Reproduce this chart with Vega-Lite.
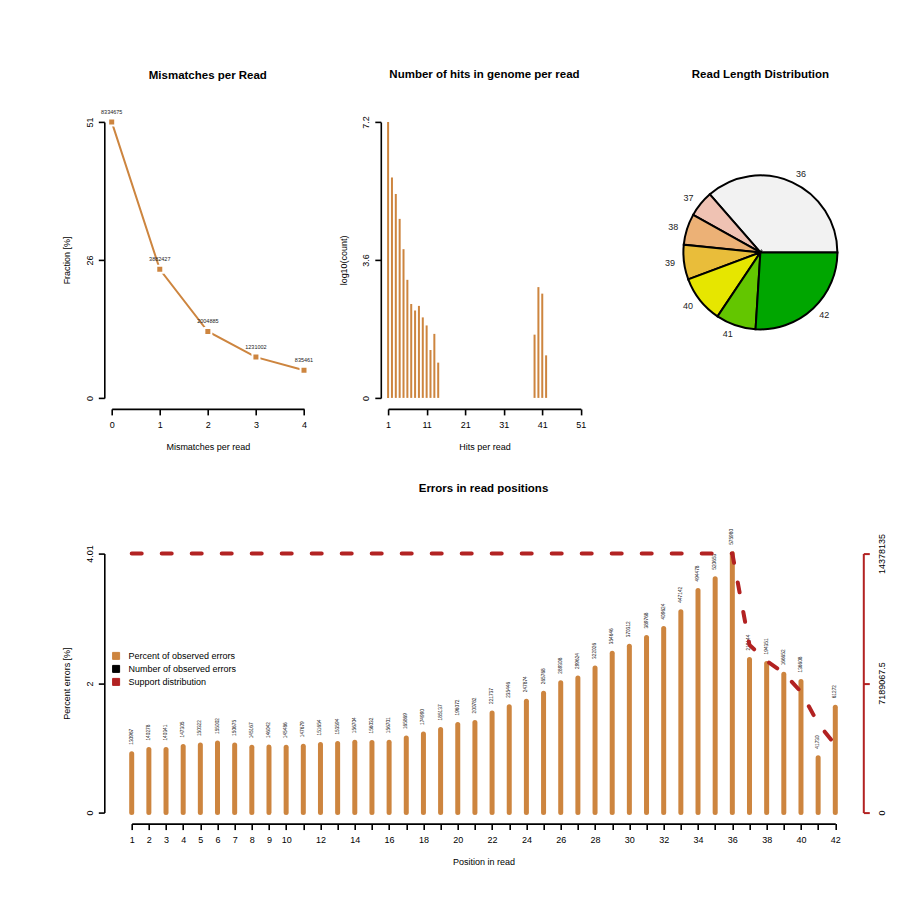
{
  "$schema": "https://vega.github.io/schema/vega-lite/v6.json",
  "background": "white",
  "padding": {"left": 36.3, "top": 68.9, "right": 5, "bottom": 5},
  "config": {
    "font": "Liberation Sans",
    "view": {"stroke": null},
    "title": {"font": "Liberation Sans", "fontSize": 11.5, "fontWeight": "bold", "color": "black", "anchor": "middle"},
    "axis": {"grid": false, "domainColor": "black", "tickColor": "black", "domainWidth": 1.6, "tickWidth": 1.6, "tickSize": 6, "labelFont": "Liberation Sans", "labelFontSize": 9, "labelColor": "black", "titleFont": "Liberation Sans", "titleFontSize": 9, "titleFontWeight": "normal", "titleColor": "black", "labelOverlap": false, "labelFlush": false},
    "axisX": {"labelPadding": 6, "titlePadding": 13},
    "axisLeft": {"labelAngle": 270, "labelAlign": "center", "labelBaseline": "bottom", "labelPadding": 4, "titlePadding": 13.4},
    "axisRight": {"labelAngle": 270, "labelAlign": "center", "labelBaseline": "top", "labelPadding": 8.5}
  },
  "spacing": 30.7,
  "vconcat": [
    {
      "spacing": 25.4,
      "hconcat": [
        {"width": 1, "height": 1, "data": {"values": []}, "mark": "point"},
        {
          "width": 192.3,
          "height": 276,
          "title": {"text": "Mismatches per Read", "offset": 28.5},
          "data": {"values": [
            {"mismatches": 0, "fraction": 51.17, "reads": "8334675"},
            {"mismatches": 1, "fraction": 23.84, "reads": "3882427"},
            {"mismatches": 2, "fraction": 12.31, "reads": "2004885"},
            {"mismatches": 3, "fraction": 7.56, "reads": "1231002"},
            {"mismatches": 4, "fraction": 5.13, "reads": "835461"}
          ]},
          "encoding": {
            "x": {"field": "mismatches", "type": "quantitative", "scale": {"domain": [0, 4], "nice": false, "zero": false}, "axis": {"values": [0, 1, 2, 3, 4], "offset": 11, "title": "Mismatches per read"}},
            "y": {"field": "fraction", "type": "quantitative", "scale": {"domain": [0, 51.17], "nice": false}, "axis": {"values": [0, 25.585, 51.17], "format": ".0f", "offset": 7.4, "title": "Fraction [%]"}}
          },
          "layer": [
            {"mark": {"type": "line", "color": "#CD853F", "strokeWidth": 2}},
            {"mark": {"type": "point", "shape": "square", "filled": true, "size": 49, "color": "#CD853F", "stroke": "white", "strokeWidth": 2, "opacity": 1}},
            {"mark": {"type": "text", "dy": -10, "fontSize": 5.5, "color": "#222"}, "encoding": {"text": {"field": "reads"}}}
          ]
        },
        {
          "width": 192.7,
          "height": 276,
          "title": {"text": "Number of hits in genome per read", "offset": 35.1},
          "data": {"values": [
            {"hits": 1, "log10count": 7.2},
            {"hits": 2, "log10count": 5.75},
            {"hits": 3, "log10count": 5.32},
            {"hits": 4, "log10count": 4.67},
            {"hits": 5, "log10count": 3.88},
            {"hits": 6, "log10count": 3.08},
            {"hits": 7, "log10count": 2.45},
            {"hits": 8, "log10count": 2.28},
            {"hits": 9, "log10count": 2.4},
            {"hits": 10, "log10count": 2.1},
            {"hits": 11, "log10count": 1.89},
            {"hits": 12, "log10count": 1.25},
            {"hits": 13, "log10count": 1.67},
            {"hits": 14, "log10count": 0.92},
            {"hits": 39, "log10count": 1.65},
            {"hits": 40, "log10count": 2.89},
            {"hits": 41, "log10count": 2.72},
            {"hits": 42, "log10count": 1.11}
          ]},
          "mark": {"type": "rule", "color": "#CD853F", "strokeWidth": 2},
          "encoding": {
            "x": {"field": "hits", "type": "quantitative", "scale": {"domain": [1, 51], "nice": false, "zero": false}, "axis": {"values": [1, 11, 21, 31, 41, 51], "offset": 11, "title": "Hits per read"}},
            "y": {"field": "log10count", "type": "quantitative", "scale": {"domain": [0, 7.2], "nice": false}, "axis": {"values": [0, 3.6, 7.2], "format": ".2~f", "offset": 7.3, "title": "log10(count)"}},
            "y2": {"datum": 0}
          }
        },
        {
          "width": 297.8,
          "height": 261,
          "title": {"text": "Read Length Distribution", "offset": 41.3},
          "data": {"values": [
            {"length": 36, "share": 36.4},
            {"length": 37, "share": 5.5},
            {"length": 38, "share": 6.5},
            {"length": 39, "share": 7.3},
            {"length": 40, "share": 9.9},
            {"length": 41, "share": 8.4},
            {"length": 42, "share": 26.0}
          ]},
          "encoding": {
            "theta": {"field": "share", "type": "quantitative", "stack": true, "scale": {"domain": [0, 100], "range": [1.5707963, 7.8539816]}},
            "order": {"field": "length", "type": "quantitative", "sort": "descending"}
          },
          "layer": [
            {"mark": {"type": "arc", "outerRadius": 77, "stroke": "black", "strokeWidth": 2}, "encoding": {"fill": {"field": "length", "type": "nominal", "scale": {"domain": [36, 37, 38, 39, 40, 41, 42], "range": ["#F2F2F2", "#EFC2B3", "#ECB176", "#E9BD3A", "#E6E600", "#63C600", "#00A600"]}, "legend": null}}},
            {"mark": {"type": "text", "radius": 86, "align": "left", "baseline": "middle", "fontSize": 9, "color": "#222"}, "encoding": {"text": {"condition": {"test": "datum.length == 36 || datum.length == 42", "field": "length"}, "value": ""}}},
            {"mark": {"type": "text", "radius": 86, "align": "right", "baseline": "middle", "fontSize": 9, "color": "#222"}, "encoding": {"text": {"condition": {"test": "datum.length != 36 && datum.length != 42", "field": "length"}, "value": ""}}}
          ]
        }
      ]
    },
    {
      "spacing": 25.4,
      "hconcat": [
        {"width": 1, "height": 1, "data": {"values": []}, "mark": "point"},
        {
          "width": 703.6,
          "height": 259,
          "title": {"text": "Errors in read positions", "offset": 34},
          "data": {"values": [
            {"position": 1, "pct": 0.911, "errors": "130967", "support": 14378135},
            {"position": 2, "pct": 0.976, "errors": "140278", "support": 14378135},
            {"position": 3, "pct": 0.976, "errors": "140341", "support": 14378135},
            {"position": 4, "pct": 1.024, "errors": "147305", "support": 14378135},
            {"position": 5, "pct": 1.045, "errors": "150322", "support": 14378135},
            {"position": 6, "pct": 1.078, "errors": "155002", "support": 14378135},
            {"position": 7, "pct": 1.048, "errors": "150675", "support": 14378135},
            {"position": 8, "pct": 1.010, "errors": "145167", "support": 14378135},
            {"position": 9, "pct": 1.016, "errors": "146042", "support": 14378135},
            {"position": 10, "pct": 1.012, "errors": "145486", "support": 14378135},
            {"position": 11, "pct": 1.027, "errors": "147679", "support": 14378135},
            {"position": 12, "pct": 1.055, "errors": "151654", "support": 14378135},
            {"position": 13, "pct": 1.068, "errors": "153594", "support": 14378135},
            {"position": 14, "pct": 1.090, "errors": "156704", "support": 14378135},
            {"position": 15, "pct": 1.085, "errors": "156032", "support": 14378135},
            {"position": 16, "pct": 1.090, "errors": "156701", "support": 14378135},
            {"position": 17, "pct": 1.154, "errors": "165869", "support": 14378135},
            {"position": 18, "pct": 1.217, "errors": "174990", "support": 14378135},
            {"position": 19, "pct": 1.288, "errors": "185137", "support": 14378135},
            {"position": 20, "pct": 1.364, "errors": "196072", "support": 14378135},
            {"position": 21, "pct": 1.396, "errors": "200782", "support": 14378135},
            {"position": 22, "pct": 1.542, "errors": "221737", "support": 14378135},
            {"position": 23, "pct": 1.638, "errors": "235446", "support": 14378135},
            {"position": 24, "pct": 1.724, "errors": "247874", "support": 14378135},
            {"position": 25, "pct": 1.848, "errors": "265768", "support": 14378135},
            {"position": 26, "pct": 2.012, "errors": "289308", "support": 14378135},
            {"position": 27, "pct": 2.084, "errors": "299624", "support": 14378135},
            {"position": 28, "pct": 2.240, "errors": "322026", "support": 14378135},
            {"position": 29, "pct": 2.467, "errors": "354646", "support": 14378135},
            {"position": 30, "pct": 2.576, "errors": "370312", "support": 14378135},
            {"position": 31, "pct": 2.711, "errors": "389768", "support": 14378135},
            {"position": 32, "pct": 2.849, "errors": "409624", "support": 14378135},
            {"position": 33, "pct": 3.110, "errors": "447142", "support": 14378135},
            {"position": 34, "pct": 3.439, "errors": "494478", "support": 14378135},
            {"position": 35, "pct": 3.621, "errors": "520653", "support": 14378135},
            {"position": 36, "pct": 4.006, "errors": "575980", "support": 14378135},
            {"position": 37, "pct": 2.37, "errors": "219144", "support": 9300000},
            {"position": 38, "pct": 2.31, "errors": "194351", "support": 8420000},
            {"position": 39, "pct": 2.14, "errors": "166652", "support": 7750000},
            {"position": 40, "pct": 2.03, "errors": "136608", "support": 6700000},
            {"position": 41, "pct": 0.85, "errors": "41730", "support": 4950000},
            {"position": 42, "pct": 1.63, "errors": "61272", "support": 3760000}
          ]},
          "encoding": {
            "x": {"field": "position", "type": "quantitative", "scale": {"domain": [1, 42], "nice": false, "zero": false}, "axis": {"values": [1,2,3,4,5,6,7,8,9,10,11,12,13,14,15,16,17,18,19,20,21,22,23,24,25,26,27,28,29,30,31,32,33,34,35,36,37,38,39,40,41,42], "labelExpr": "datum.value <= 10 || datum.value % 2 == 0 ? datum.label : ''", "offset": 11, "title": "Position in read"}}
          },
          "layer": [
            {
              "encoding": {
                "y": {"field": "pct", "type": "quantitative", "scale": {"domain": [0, 4.01], "nice": false}, "axis": {"values": [0, 2, 4.01], "format": ".2~f", "offset": 27.4, "title": "Percent errors [%]"}}
              },
              "layer": [
                {
                  "mark": {"type": "rule", "strokeWidth": 5, "strokeCap": "round"},
                  "encoding": {
                    "y2": {"datum": 0},
                    "color": {"datum": "Percent of observed errors", "type": "nominal", "scale": {"domain": ["Percent of observed errors", "Number of observed errors", "Support distribution"], "range": ["#CD853F", "#000000", "#B22222"]},
                      "legend": {"orient": "none", "legendX": 75.3, "legendY": 529.5, "title": null, "symbolType": "square", "symbolSize": 49, "labelFontSize": 9, "labelFont": "Liberation Sans", "labelColor": "black", "rowPadding": 2, "labelOffset": 8, "padding": 0,
                        "encode": {"symbols": {"update": {"fill": {"scale": "color", "field": "value"}, "stroke": {"value": "black"}, "strokeWidth": {"value": 1}, "opacity": {"value": 1}}}}}}
                  }
                },
                {
                  "mark": {"type": "text", "angle": 270, "align": "left", "baseline": "middle", "dx": 9, "fontSize": 4.8, "color": "#222"},
                  "encoding": {"text": {"field": "errors"}}
                }
              ]
            },
            {
              "mark": {"type": "line", "color": "#B22222", "strokeWidth": 4, "strokeDash": [10, 20], "strokeCap": "round"},
              "encoding": {
                "y": {"field": "support", "type": "quantitative", "scale": {"domain": [0, 14378135], "nice": false}, "axis": {"orient": "right", "values": [0, 7189067.5, 14378135], "format": ".1~f", "offset": 28, "title": null, "domainColor": "#B22222", "tickColor": "#B22222", "domainWidth": 2, "tickWidth": 2}}
              }
            }
          ],
          "resolve": {"scale": {"y": "independent"}}
        }
      ]
    }
  ]
}
